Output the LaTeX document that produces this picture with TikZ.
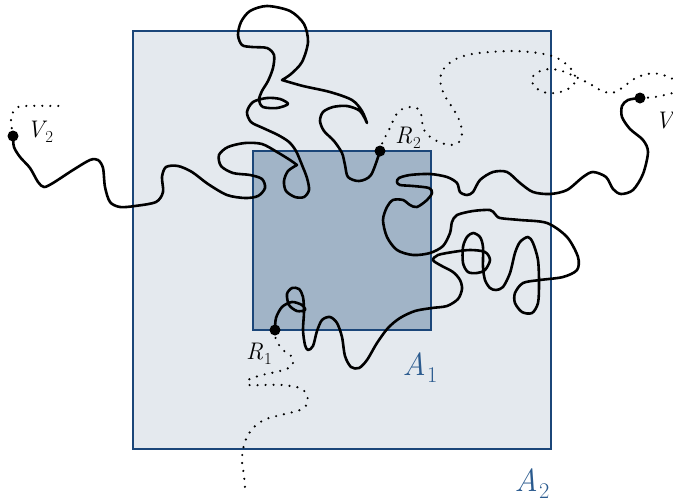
\documentclass[tikz,border=0pt]{standalone}
\usepackage{fontspec}
\definecolor{bordblue}{HTML}{1B4679}
\definecolor{outerfill}{HTML}{E4E9EE}
\definecolor{innerfill}{HTML}{A1B4C7}
\definecolor{labblue}{HTML}{2A5A8E}
\newcommand{\sublab}[2]{{\itshape #1}\kern0.04em\raisebox{-0.22em}{\scalebox{0.7}{#2}}}
\begin{document}
\begin{tikzpicture}[x=1pt,y=-1pt,
  region/.style={draw=bordblue, line width=1.8pt},
  walk/.style={line width=2.6pt, black, line join=round, line cap=round},
  dotwalk/.style={line width=2.4pt, line cap=round, dash pattern=on 0pt off 8pt},
  endpt/.style={circle, fill=black, inner sep=0pt, minimum size=11pt},
  ptlabel/.style={font=\fontsize{24}{28}\selectfont, inner sep=0pt},
  arealabel/.style={font=\fontsize{32}{38}\selectfont, text=labblue, inner sep=0pt}]
\useasboundingbox (0,0) rectangle (673,501);
% regions
\coordinate (A2nw) at (133,31);
\coordinate (A2se) at (551,449);
\coordinate (A1nw) at (253,151);
\coordinate (A1se) at (431,330);
\draw[region, fill=outerfill] (A2nw) rectangle (A2se);
\draw[region, fill=innerfill] (A1nw) rectangle (A1se);
% end points
\coordinate (V2) at (13,136);
\coordinate (V1) at (640,98);
\coordinate (R2) at (380,151);
\coordinate (R1) at (275,330);
% dotted continuations
\draw[dotwalk] plot[smooth] coordinates {(V2) (11,120) (15,109) (25,106) (61,106)};
\draw[dotwalk] plot[smooth] coordinates {(V1) (655,97) (673,93)};
\draw[dotwalk] plot[smooth] coordinates {(R1) (276,340) (283,350) (292,357) (292,366) (280,371) (262,375) (248,380) (249,385) (262,385) (282,385) (300,388) (307,395) (307,404) (300,410) (285,414) (266,419) (254,427) (247,437) (243,449) (242,462) (244,475) (245,488)};
\draw[dotwalk] plot[smooth] coordinates {(R2) (383,141) (388,132) (393,121) (398,112) (405,108) (414,107) (420,111) (422,119) (423,128) (429,136) (439,142) (450,145) (459,142) (462,133) (460,122) (454,110) (446,98) (441,86) (441,74) (447,65) (458,58) (472,54) (490,52) (515,51) (538,53) (555,57) (566,64) (574,73) (575,82) (568,89) (556,93) (543,92) (534,86) (532,78) (538,72) (549,69) (562,71) (576,77) (590,84) (602,91) (612,93) (622,88) (634,79) (647,74) (660,74) (673,79)};
% walk V2 -- R2
\draw[walk] plot[smooth] coordinates {(V2) (14,147) (20,157) (30,168) (38,182) (44,187) (53,183) (73,170) (90,160) (98,160) (103,168) (105,187) (110,202) (120,207) (135,206) (156,202) (163,192) (162,177) (166,167) (178,166) (192,172) (208,184) (227,195) (245,198) (258,196) (265,188) (262,179) (250,175) (233,173) (221,166) (219,155) (228,147) (245,143) (262,144) (277,152) (290,160) (297,165)}
  plot[smooth] coordinates {(297,165) (288,171) (284,181) (286,191) (295,197) (304,197) (309,190) (307,178) (302,165) (296,151) (289,142) (278,135) (263,128) (251,122) (247,112) (253,102) (267,98) (280,99) (288,104) (277,108) (263,107) (259,100) (262,91) (268,81) (273,68) (274,55) (267,48) (252,47) (242,45) (238,35) (241,22) (250,11) (267,6) (290,11) (304,24) (308,42) (302,62) (291,74) (282,80)}
  plot[smooth] coordinates {(282,80) (303,86) (330,92) (352,100) (362,111) (367,123)}
  plot[smooth] coordinates {(367,123) (360,111) (347,106) (333,107) (323,112) (320,121) (324,131) (334,141) (342,153) (345,165) (348,177) (359,181) (371,175) (R2)};
% walk R1 -- V1
\draw[walk] plot[smooth] coordinates {(R1) (276,318) (282,307) (292,302) (302,305) (305,310) (297,311) (289,305) (287,294) (292,288) (299,289) (303,297) (304,312) (303,330) (305,345) (308,350) (313,346) (317,331) (322,320) (330,317) (337,323) (342,337) (345,356) (351,367) (359,368) (367,360) (377,343) (388,328) (400,318) (415,311) (432,308) (447,306) (458,299) (462,289) (460,280) (453,272) (440,265) (433,260) (438,255) (453,252) (470,250) (485,252) (490,260) (485,270) (477,273) (468,272) (463,263) (463,247) (467,237) (473,233) (480,237) (483,247) (483,267) (485,280) (490,288) (496,290) (503,287) (510,273) (515,253) (520,242) (528,237) (533,243) (538,260) (539,283) (538,303) (532,313) (522,312) (515,303) (515,293) (523,283) (540,280) (563,277) (577,270) (578,257) (567,237) (547,223) (520,220) (500,218) (495,214) (490,210) (473,211) (457,215) (452,222) (450,233) (443,246) (430,253) (413,255) (397,250) (387,237) (383,220) (387,207) (393,200) (403,200) (410,205) (417,207) (427,200) (432,193) (429,188) (413,186) (400,185) (397,182) (399,178) (410,175) (430,174) (447,177) (457,183) (460,192) (467,195) (473,192) (480,180) (493,172) (507,172) (520,183) (533,192) (550,194) (567,190) (583,177) (593,172) (606,177) (613,189) (621,194) (633,190) (643,174) (648,152) (643,140) (630,129) (622,117) (622,106) (628,100) (V1)};
% dots
\node[endpt] (V2dot) at (V2) {};
\node[endpt] (V1dot) at (V1) {};
\node[endpt] (R2dot) at (R2) {};
\node[endpt] (R1dot) at (R1) {};
% labels
\node[ptlabel] (V2lab) at (40,132) {\sublab{V}{2}};
\node[ptlabel, anchor=west] (V1lab) at (655,123) {\sublab{V}{1}};
\node[ptlabel] (R2lab) at (408,138) {\sublab{R}{2}};
\node[ptlabel] (R1lab) at (259,354) {\sublab{R}{1}};
\node[arealabel] (A1lab) at (420,368) {\sublab{A}{1}};
\node[arealabel] (A2lab) at (532,484) {\sublab{A}{2}};
\end{tikzpicture}
\end{document}
